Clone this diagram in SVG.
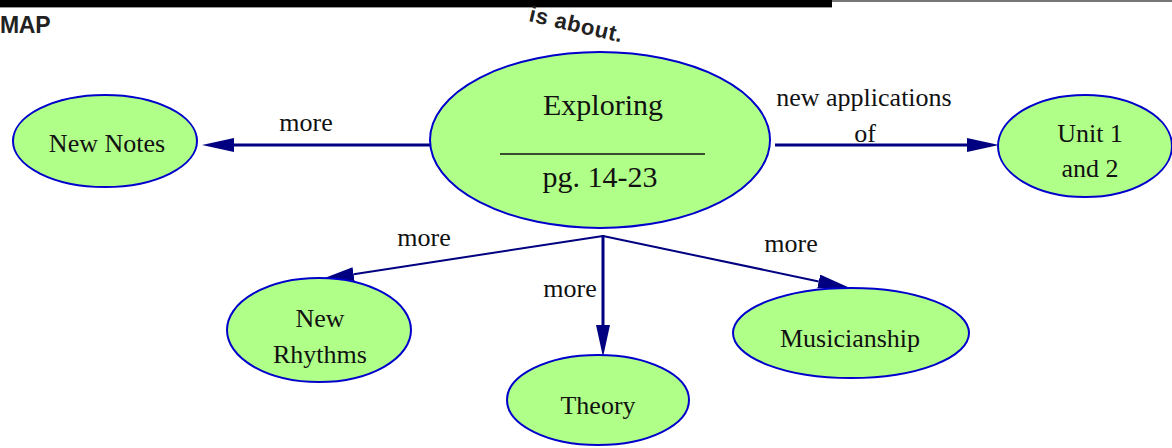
<svg xmlns="http://www.w3.org/2000/svg" width="1172" height="448" viewBox="0 0 1172 448">
<style>
.node{fill:#b0ff88;stroke:#0000cc;stroke-width:2}
.t{font-family:"Liberation Serif","Times New Roman",serif;font-size:26px;fill:#111;text-anchor:middle}
.big{font-size:30px}
.lbl{font-family:"Liberation Serif","Times New Roman",serif;font-size:26px;fill:#111;text-anchor:middle}
.hdr{font-family:"Liberation Sans",Arial,sans-serif;font-weight:bold;fill:#222}
.c{stroke:#000080;fill:none}
</style>
<defs>
<marker id="ah" markerUnits="userSpaceOnUse" markerWidth="34" markerHeight="16" refX="0" refY="7" orient="auto">
<path d="M0,0 L32,7 L0,14 z" fill="#000080"/>
</marker>
</defs>
<rect x="0" y="0" width="1172" height="448" fill="#fff"/>
<g id="header">
<rect x="0" y="0" width="832" height="7" fill="#000"/>
<rect x="0" y="7" width="832" height="1" fill="#999"/>
<rect x="832" y="0" width="340" height="2" fill="#777"/>
<text class="hdr" x="0" y="33" font-size="23" letter-spacing="-0.3">MAP</text>
<text class="hdr" x="528" y="21" font-size="22" letter-spacing="0.6" transform="rotate(13 528 21)">is about.</text>
</g>
<g id="connectors">
<line class="c" x1="430" y1="145" x2="234" y2="145" stroke-width="3" marker-end="url(#ah)"/>
<line class="c" x1="775" y1="145" x2="967" y2="145" stroke-width="3" marker-end="url(#ah)"/>
<line class="c" x1="603" y1="235" x2="603" y2="325" stroke-width="3" marker-end="url(#ah)"/>
<line class="c" x1="603" y1="236" x2="353.6" y2="274.2" stroke-width="2" marker-end="url(#ah)"/>
<line class="c" x1="603" y1="236" x2="818.7" y2="281.4" stroke-width="2" marker-end="url(#ah)"/>
<text class="lbl" x="306" y="131">more</text>
<text class="lbl" x="864" y="106">new applications</text>
<text class="lbl" x="865" y="142">of</text>
<text class="lbl" x="424" y="246">more</text>
<text class="lbl" x="570" y="297">more</text>
<text class="lbl" x="791" y="252">more</text>
</g>
<g id="exploring">
<ellipse class="node" cx="600" cy="140" rx="170" ry="88"/>
<text class="t big" x="603" y="115">Exploring</text>
<line x1="500" y1="154" x2="705" y2="154" stroke="#111" stroke-width="1.5"/>
<text class="t big" x="600" y="187">pg. 14-23</text>
</g>
<g id="new-notes">
<ellipse class="node" cx="105" cy="141" rx="92" ry="46"/>
<text class="t" x="107" y="152">New Notes</text>
</g>
<g id="unit">
<ellipse class="node" cx="1085" cy="146" rx="87" ry="51"/>
<text class="t" x="1090" y="142">Unit 1</text>
<text class="t" x="1090" y="177">and 2</text>
</g>
<g id="new-rhythms">
<ellipse class="node" cx="319" cy="330" rx="92" ry="52"/>
<text class="t" x="320" y="327">New</text>
<text class="t" x="320" y="363">Rhythms</text>
</g>
<g id="theory">
<ellipse class="node" cx="598" cy="400" rx="91" ry="45"/>
<text class="t" x="598" y="414">Theory</text>
</g>
<g id="musicianship">
<ellipse class="node" cx="851" cy="333" rx="118" ry="45"/>
<text class="t" x="850" y="347">Musicianship</text>
</g>
</svg>
